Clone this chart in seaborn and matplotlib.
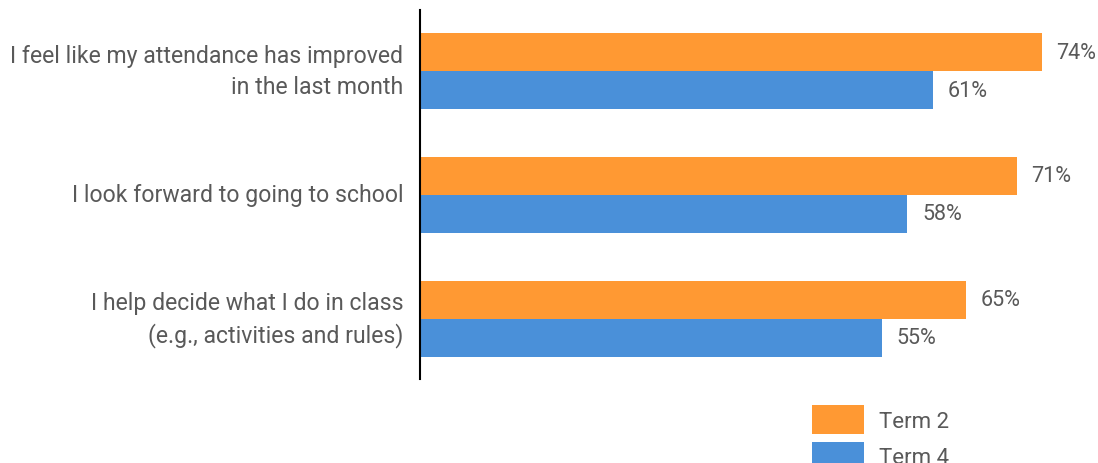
import matplotlib
matplotlib.use("Agg")
import matplotlib.pyplot as plt
import seaborn as sns
import pandas as pd

questions = [
    "I feel like my attendance has improved\nin the last month",
    "I look forward to going to school",
    "I help decide what I do in class\n(e.g., activities and rules)",
]
terms = ["Term 2", "Term 4"]
term2 = [74, 71, 65]
term4 = [61, 58, 55]
colors = ["#FF9933", "#4A90D9"]

df = pd.DataFrame({
    "question": questions * 2,
    "term": [terms[0]] * 3 + [terms[1]] * 3,
    "pct": term2 + term4,
})

sns.set_theme(style="white")
plt.rcParams["font.family"] = ["Roboto", "DejaVu Sans"]
text_color = "#595959"

W, H = 1098, 464
fig = plt.figure(figsize=(W / 100, H / 100), dpi=100)
ax = fig.add_axes([420 / W, (H - 380) / H, (W - 420) / W, 369 / H])

sns.barplot(data=df, y="question", x="pct", hue="term", orient="h",
            palette=colors, width=0.613, gap=0, saturation=1,
            edgecolor="none", linewidth=0, ax=ax)

ax.set_xlim(0, (W - 420) / 8.405)
ax.set_ylim(2.484, -0.492)

for cont in ax.containers:
    ax.bar_label(cont, labels=[f"{v:.0f}%" for v in cont.datavalues],
                 padding=10.5, fontsize=15.5, color=text_color)

ax.set_xlabel("")
ax.set_ylabel("")
ax.xaxis.set_visible(False)
ax.tick_params(axis="y", length=0, pad=12, labelsize=16.6, labelcolor=text_color)
for lab in ax.get_yticklabels():
    lab.set_linespacing(1.45)
    lab.set_horizontalalignment("right")
    lab.set_verticalalignment("center")

for side in ["top", "right", "bottom"]:
    ax.spines[side].set_visible(False)
ax.spines["left"].set_color("black")
ax.spines["left"].set_linewidth(1.5)

ax.get_legend().remove()
handles, labels = ax.get_legend_handles_labels()
leg_size = 16
fs = leg_size * 100 / 72
fig.legend(handles, labels, loc="upper left",
           bbox_to_anchor=(812 / W, 1 - 406 / H), frameon=False,
           fontsize=leg_size, labelcolor=text_color, borderpad=0, borderaxespad=0,
           handlelength=52 / fs, handleheight=29 / fs + 0.3,
           labelspacing=0.37, handletextpad=15 / fs)

fig.savefig("out.png", dpi=100)
